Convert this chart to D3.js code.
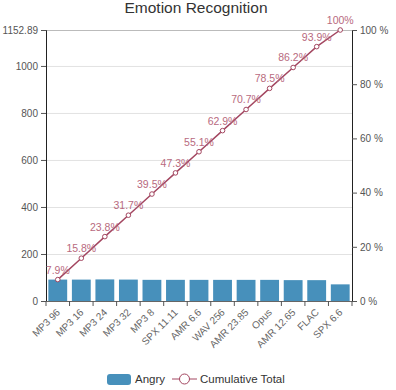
<!DOCTYPE html>
<html>
<head>
<meta charset="utf-8">
<script src="https://cdn.jsdelivr.net/npm/d3@7"></script>
<style>
  body { margin: 0; background: #fff; }
  svg { font-family: "Liberation Sans", Arial, sans-serif; }
</style>
</head>
<body>
<svg id="chart" width="396" height="390"></svg>
<script>
// data
const categories = ["MP3 96", "MP3 16", "MP3 24", "MP3 32", "MP3 8", "SPX 11.11", "AMR 6.6",
  "WAV 256", "AMR 23.85", "Opus", "AMR 12.65", "FLAC", "SPX 6.6"];
const angry = [91.1, 91.0, 91.8, 91.1, 90.0, 90.0, 89.9, 89.9, 89.9, 89.9, 88.8, 88.7, 70.79];
const leftTicks = [0, 200, 400, 600, 800, 1000];
const rightTicks = [0, 20, 40, 60, 80, 100];

const total = d3.sum(angry);
let run = 0;
const cumulative = angry.map(v => { run += v; return run / total * 100; });

const svg = d3.select("#chart");
const margin = {left: 46, right: 44, top: 30, bottom: 89};
const W = 396, H = 390;
const x0 = margin.left, x1 = W - margin.right;
const y0 = H - margin.bottom, y1 = margin.top;

const barColor = "#4790bb";
const lineColor = "#a34660";

const x = d3.scaleBand().domain(categories).range([x0, x1]).paddingInner(0.2).paddingOuter(0.1);
const yL = d3.scaleLinear().domain([0, total]).range([y0, y1]);
const yR = d3.scaleLinear().domain([0, 100]).range([y0, y1]);

// title
svg.append("text").attr("x", 196).attr("y", 13).attr("text-anchor", "middle")
  .attr("font-size", 15.5).attr("fill", "#333").text("Emotion Recognition");

// gridlines
svg.append("g").selectAll("line").data(leftTicks.slice(1).concat([total])).join("line")
  .attr("x1", x0).attr("x2", x1)
  .attr("y1", d => yL(d) + 0.5).attr("y2", d => yL(d) + 0.5)
  .attr("stroke", d => d === total ? "#bbb" : "#e2e2e2").attr("stroke-width", 1);

// bars
svg.append("g").selectAll("rect").data(angry).join("rect")
  .attr("x", (d, i) => x(categories[i]))
  .attr("width", x.bandwidth())
  .attr("y", d => yL(d))
  .attr("height", d => y0 - yL(d))
  .attr("fill", barColor);

// left axis
const gL = svg.append("g").attr("transform", `translate(${x0},0)`)
  .call(d3.axisLeft(yL).tickValues(leftTicks.concat([total])).tickSize(5)
    .tickFormat(d => d === total ? d3.format(".2f")(d) : d));
gL.select(".domain").attr("stroke", "#222");
gL.selectAll(".tick line").attr("stroke", "#555");
gL.selectAll("text").attr("font-size", 10).attr("fill", "#555").attr("font-family", null);

// right axis
const gR = svg.append("g").attr("transform", `translate(${x1},0)`)
  .call(d3.axisRight(yR).tickValues(rightTicks).tickSize(5).tickFormat(d => d + " %"));
gR.select(".domain").attr("stroke", "#222");
gR.selectAll(".tick line").attr("stroke", "#555");
gR.selectAll("text").attr("font-size", 10).attr("fill", "#555").attr("font-family", null);

// bottom axis (ticks on band boundaries)
const gB = svg.append("g").attr("transform", `translate(0,${y0})`);
gB.append("line").attr("x1", x0).attr("x2", x1).attr("y1", 0.5).attr("y2", 0.5).attr("stroke", "#666");
gB.selectAll("line.tk").data(d3.range(categories.length + 1)).join("line").attr("class", "tk")
  .attr("x1", i => x0 + i * (x1 - x0) / categories.length).attr("x2", i => x0 + i * (x1 - x0) / categories.length)
  .attr("y1", 0).attr("y2", 5).attr("stroke", "#555");
gB.selectAll("text").data(categories).join("text")
  .attr("transform", d => `translate(${x(d) + x.bandwidth() / 2 + 3},${12}) rotate(-45)`)
  .attr("text-anchor", "end").attr("font-size", 10).attr("fill", "#666").text(d => d);

// cumulative line
const cx = (d, i) => x(categories[i]) + x.bandwidth() / 2;
const line = d3.line().x(cx).y(d => yR(d));
svg.append("path").datum(cumulative).attr("d", line)
  .attr("fill", "none").attr("stroke", lineColor).attr("stroke-width", 1.5);
svg.append("g").selectAll("circle").data(cumulative).join("circle")
  .attr("cx", cx).attr("cy", d => yR(d)).attr("r", 2.3)
  .attr("fill", "#fff").attr("stroke", lineColor).attr("stroke-width", 1);
svg.append("g").selectAll("text").data(cumulative).join("text")
  .attr("x", cx).attr("y", d => yR(d) - 6).attr("text-anchor", "middle")
  .attr("font-size", 10.5).attr("fill", "#b86a7e")
  .text(d => d3.format(".1f")(d).replace(/\.0$/, "") + "%");

// legend
const lg = svg.append("g").attr("transform", "translate(0,379)");
lg.append("rect").attr("x", 107).attr("y", -5).attr("width", 24).attr("height", 11).attr("rx", 3).attr("fill", barColor);
lg.append("text").attr("x", 135).attr("y", 4).attr("font-size", 11.5).attr("fill", "#333").text("Angry");
lg.append("line").attr("x1", 172).attr("x2", 197).attr("y1", 0).attr("y2", 0).attr("stroke", lineColor).attr("stroke-width", 1);
lg.append("circle").attr("cx", 184.5).attr("cy", 0).attr("r", 5).attr("fill", "#fff").attr("stroke", lineColor);
lg.append("text").attr("x", 200).attr("y", 4).attr("font-size", 11.5).attr("fill", "#333").text("Cumulative Total");
</script>
</body>
</html>
